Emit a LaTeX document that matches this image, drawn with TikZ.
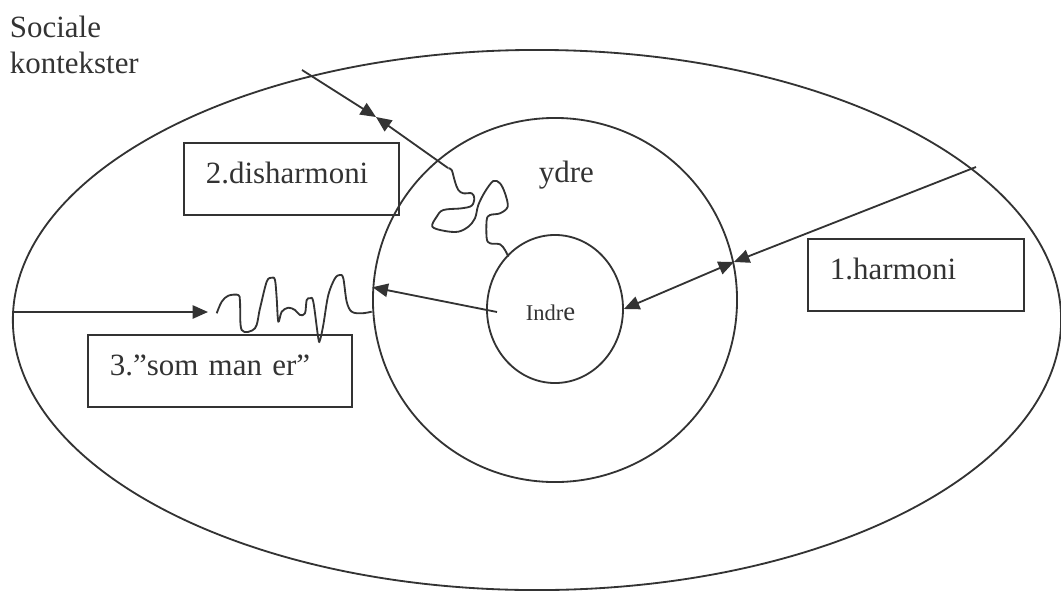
\documentclass[tikz,border=0pt]{standalone}
\usepackage{fontspec}
\setmainfont{Liberation Serif}
\usetikzlibrary{arrows.meta, shapes.geometric}

\begin{document}
\begin{tikzpicture}[x=0.025cm, y=-0.025cm, line width=1.3pt, draw=black!80, text=black!80,
    pil/.style={-{Triangle[length=11pt,width=9.5pt]}},
    dobbelpil/.style={{Triangle[length=11pt,width=9.5pt]}-{Triangle[length=11pt,width=9.5pt]}},
    tekst/.style={font=\fontsize{22}{25.5}\selectfont},
    boks/.style={draw, tekst, anchor=north west, align=left, inner ysep=0pt, inner xsep=0.55cm,
        text height=1.025cm, text depth=0.775cm}]
    \useasboundingbox (0,0) rectangle (1061,594);

    % 三个圆
    \node[draw, ellipse, inner sep=0pt, minimum width=26.2cm, minimum height=13.5cm] (kontekst) at (537,320) {};
    \node[draw, circle, inner sep=0pt, minimum size=9.1cm] (ydre) at (555,300) {};
    \node[draw, ellipse, inner sep=0pt, minimum width=3.4cm, minimum height=3.7cm] (indre) at (555,309) {};

    % 文字
    \node[tekst, anchor=base west, align=left, inner sep=0pt] (tsoc) at (9,73) {Sociale\\kontekster};
    \node[tekst, anchor=base west, inner sep=0pt] (tydre) at (538,182) {ydre};
    \node[anchor=base west, inner sep=0pt] (tindre) at (525,320)
        {{\fontsize{16}{19}\selectfont Indr}{\fontsize{19}{22}\selectfont e}};

    % 方框
    \node[boks, text width=4.275cm] (disharmoni) at (183,142) {2.disharmoni};
    \node[boks, text width=4.3cm] (harmoni) at (807,238) {1.harmoni};
    \node[boks, text width=5.5cm] (somman) at (87,334) {3.”som man er”};

    % 2. disharmoni
    \coordinate (s1) at (302,70);
    \coordinate (m1) at (376,117);
    \coordinate (k1) at (448,168);
    \draw[pil] (s1) -- (m1);
    \draw[pil] (k1) -- (m1);
    \draw[line join=round] plot[smooth, tension=0.55] coordinates {
        (448.3,168.3) (451.7,170) (455,181.7) (458.3,190) (463.3,193.3) (471.7,193.3)
        (474.3,198.3) (471.7,205.7) (461.7,208.3) (443.3,210) (436.7,216.7) (432.3,226.7)
        (445,231) (458.3,231.7) (468.3,226.7) (475,218.3) (478.3,205) (485,191.7)
        (493.3,181) (500,183.3) (505,193.3) (507.7,206.7) (500,213.3) (490,215)
        (486.7,220) (486.7,238.3) (490,243.3) (500,244.3) (505,250) (508.3,256.7)};

    % 1. harmoni
    \coordinate (r1) at (976,167);
    \draw[pil] (r1) -- (ydre.12);
    \draw[dobbelpil] (indre.east) -- (ydre.12);

    % 3. "som man er"
    \coordinate (l1) at (14,312);
    \coordinate (k2) at (208,312);
    \coordinate (i1) at (497,312);
    \draw[pil] (l1) -- (k2);
    \draw[pil] (i1) -- (ydre.176);
    \draw[line join=round] plot[smooth, tension=0.55] coordinates {
        (216.7,313.3) (221.7,301.7) (228.3,295.7) (238.3,295) (240,301.7) (241.7,330)
        (255,328.3) (260,308.3) (266.7,281.7) (271.7,277.7) (275,280) (276.7,298.3)
        (278.3,321.7) (281.7,311.7) (288.3,307.7) (295,310) (300,315) (305,313.3)
        (306.7,300) (310,298.3) (313.3,301.7) (318.3,338.3) (320,340) (323.3,325)
        (328.3,295) (335,278.3) (340,275) (343.3,278.3) (346.7,301.7) (351.7,311.7)
        (361.7,313.3) (371.7,311.7)};
\end{tikzpicture}
\end{document}
